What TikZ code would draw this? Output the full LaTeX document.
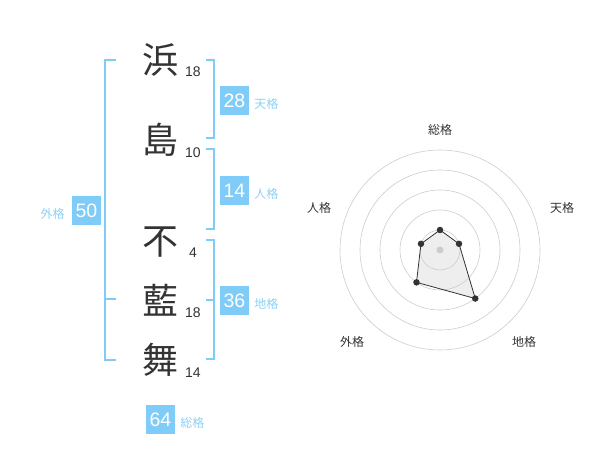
\documentclass[tikz,border=0pt]{standalone}
\usepackage{fontspec}
\setmainfont{Liberation Sans}
\newfontfamily\jpfont{Noto Sans CJK JP}
\usetikzlibrary{positioning, calc}
\definecolor{kblue}{HTML}{80CCF8}
\definecolor{klabel}{HTML}{8ED0F4}
\definecolor{kink}{HTML}{333333}
\definecolor{kring}{HTML}{CCCCCC}
\definecolor{kfill}{HTML}{EEEEEE}
\tikzset{
  kanji/.style={font=\jpfont\fontsize{36}{36}\selectfont, text=kink, inner sep=0pt},
  strokes/.style={font=\fontsize{14}{14}\selectfont, text=kink, inner sep=0pt},
  score/.style={
    fill=kblue, text=white, font=\fontsize{19.5}{19.5}\selectfont,
    minimum size=29pt, inner sep=0pt
  },
  lab/.style={font=\jpfont\fontsize{12}{12}\selectfont, text=#1, inner sep=0pt},
  lab/.default=klabel,
  brk/.style={draw=kblue, line width=2pt},
  ring/.style={draw=kring, line width=0.6pt},
  dot/.style={circle, fill=kink, inner sep=0pt, minimum size=6.5pt}
}
\begin{document}
\begin{tikzpicture}[x=1pt, y=-1pt]
  \useasboundingbox (0,0) rectangle (600,470);
  % name characters and stroke counts
  \node[kanji] (k1) at (160,60) {浜};
  \node[kanji] (k2) at (160,140) {島};
  \node[kanji] (k3) at (160,242) {不};
  \node[kanji] (k4) at (160,300) {藍};
  \node[kanji] (k5) at (160,360) {舞};
  \node[strokes] (n1) at (193,72) {18};
  \node[strokes] (n2) at (193,153) {10};
  \node[strokes] (n3) at (193,253) {4};
  \node[strokes] (n4) at (193,313) {18};
  \node[strokes] (n5) at (193,373) {14};
  % brackets
  \draw[brk] (116,60) -- (105,60) -- (105,360) -- (116,360);
  \draw[brk] (105,299) -- (116,299);
  \draw[brk] (206,60) -- (214,60) -- (214,138) -- (206,138);
  \draw[brk] (206,149) -- (214,149) -- (214,229) -- (206,229);
  \draw[brk] (206,240) -- (214,240) -- (214,359) -- (206,359);
  \draw[brk] (206,300) -- (214,300);
  % scores
  \node[score] (ten) at (234.5,100.5) {28};
  \node[lab, right=5pt of ten, yshift=-3pt] (tenl) {天格};
  \node[score] (jin) at (234.5,190.5) {14};
  \node[lab, right=5pt of jin, yshift=-3pt] (jinl) {人格};
  \node[score] (chi) at (234.5,300.5) {36};
  \node[lab, right=5pt of chi, yshift=-3pt] (chil) {地格};
  \node[score] (gai) at (86.5,210.5) {50};
  \node[lab, left=7pt of gai, yshift=-3pt] (gail) {外格};
  \node[score] (sou) at (160.5,419.5) {64};
  \node[lab, right=5pt of sou, yshift=-3pt] (soul) {総格};
  % radar chart
  \coordinate (c) at (440,250);
  \coordinate (p1) at ($(c)+(-90:20)$);
  \coordinate (p2) at ($(c)+(-18:20)$);
  \coordinate (p3) at ($(c)+(54:60)$);
  \coordinate (p4) at ($(c)+(126:40)$);
  \coordinate (p5) at ($(c)+(198:20)$);
  \fill[kfill] (p1) -- (p2) -- (p3) -- (p4) -- (p5) -- cycle;
  \foreach \r in {20,40,...,100}
    \draw[ring] (c) circle[radius=\r];
  \fill[kring] (c) circle[radius=3.5];
  \draw[kink, line width=0.8pt] (p1) -- (p2) -- (p3) -- (p4) -- (p5) -- cycle;
  \foreach \p in {p1,p2,p3,p4,p5}
    \node[dot] at (\p) {};
  \node[lab=kink] (rsou) at (440,130) {総格};
  \node[lab=kink] (rten) at (562,208) {天格};
  \node[lab=kink] (rchi) at (524,342) {地格};
  \node[lab=kink] (rgai) at (352,342) {外格};
  \node[lab=kink] (rjin) at (319,208) {人格};
\end{tikzpicture}
\end{document}
